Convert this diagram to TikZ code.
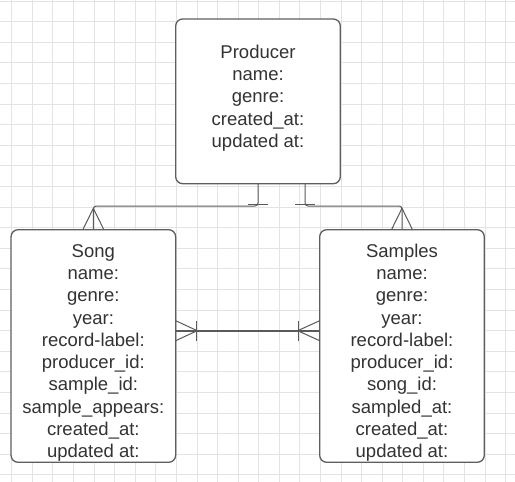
\documentclass[tikz,border=0pt]{standalone}
\usepackage{fontspec}
\setmainfont{Liberation Sans}
\definecolor{boxgray}{HTML}{5E5E5E}
\definecolor{linegray}{HTML}{5A5A5A}
\definecolor{txtgray}{HTML}{333333}
\definecolor{gridc}{HTML}{E3E3E3}
\begin{document}
\begin{tikzpicture}[x=1pt,y=-1pt,
  entity/.style={draw=boxgray, line width=1.3pt, rounded corners=7pt, fill=white,
    minimum width=164.6pt, inner sep=0pt, outer sep=0pt},
  fields/.style={align=center, font=\fontsize{18.5}{22.25}\selectfont, text=txtgray,
    inner sep=0pt, anchor=base},
  rel/.style={draw=linegray, line width=1pt},
  gridline/.style={draw=gridc, line width=0.8pt},
]
\useasboundingbox (0,0) rectangle (515,482);
\fill[white] (0,0) rectangle (515,482);
% background grid
\foreach \i in {0,...,24} \draw[gridline] ({11.7+20.58*\i},0) -- ({11.7+20.58*\i},482);
\foreach \j in {0,...,23} \draw[gridline] (0,{1+20.6*\j}) -- (515,{1+20.6*\j});

% entity boxes
\node[entity, minimum height=164.7pt] (producer) at (258,101.35) {};
\node[entity, minimum height=232.6pt] (song) at (93.35,346) {};
\node[entity, minimum height=232.6pt] (samples) at (402,346) {};

% field texts (base anchor = baseline of the last line)
\node[fields] (producertext) at (258,147.3) {Producer\\name:\\genre:\\created\_at:\\updated at:};
\node[fields] (songtext) at (93.35,457.5) {Song\\name:\\genre:\\year:\\record-label:\\producer\_id:\\sample\_id:\\sample\_appears:\\created\_at:\\updated at:};
\node[fields] (samplestext) at (402,457.5) {Samples\\name:\\genre:\\year:\\record-label:\\producer\_id:\\song\_id:\\sampled\_at:\\created\_at:\\updated at:};

% Producer -> Song
\draw[rel, rounded corners=3pt] (producer.south) -- ++(0,22.3) -| (song.north);
\draw[rel] ([xshift=-10pt,yshift=-20.6pt]producer.south) -- ++(20,0);
\draw[rel] ([xshift=-10.5pt]song.north) -- ([yshift=21.4pt]song.north) -- ([xshift=10.5pt]song.north);

% Producer -> Samples
\draw[rel, rounded corners=3pt] ([xshift=47pt]producer.south) -- ++(0,22.3) -| (samples.north);
\draw[rel] ([xshift=37pt,yshift=-20.6pt]producer.south) -- ++(20,0);
\draw[rel] ([xshift=-10.5pt]samples.north) -- ([yshift=21.4pt]samples.north) -- ([xshift=10.5pt]samples.north);

% Song <-> Samples
\coordinate (sl) at ([yshift=15.3pt]song.east);
\coordinate (sr) at ([yshift=15.3pt]samples.west);
\draw[rel, line width=1.6pt] (sl) -- (sr);
\draw[rel] ([yshift=10pt]sl) -- ([xshift=21.6pt]sl) -- ([yshift=-10pt]sl);
\draw[rel] ([xshift=21.3pt,yshift=10pt]sl) -- ([xshift=21.3pt,yshift=-10pt]sl);
\draw[rel] ([yshift=10pt]sr) -- ([xshift=-22pt]sr) -- ([yshift=-10pt]sr);
\draw[rel] ([xshift=-21.6pt,yshift=10pt]sr) -- ([xshift=-21.6pt,yshift=-10pt]sr);
\end{tikzpicture}
\end{document}
